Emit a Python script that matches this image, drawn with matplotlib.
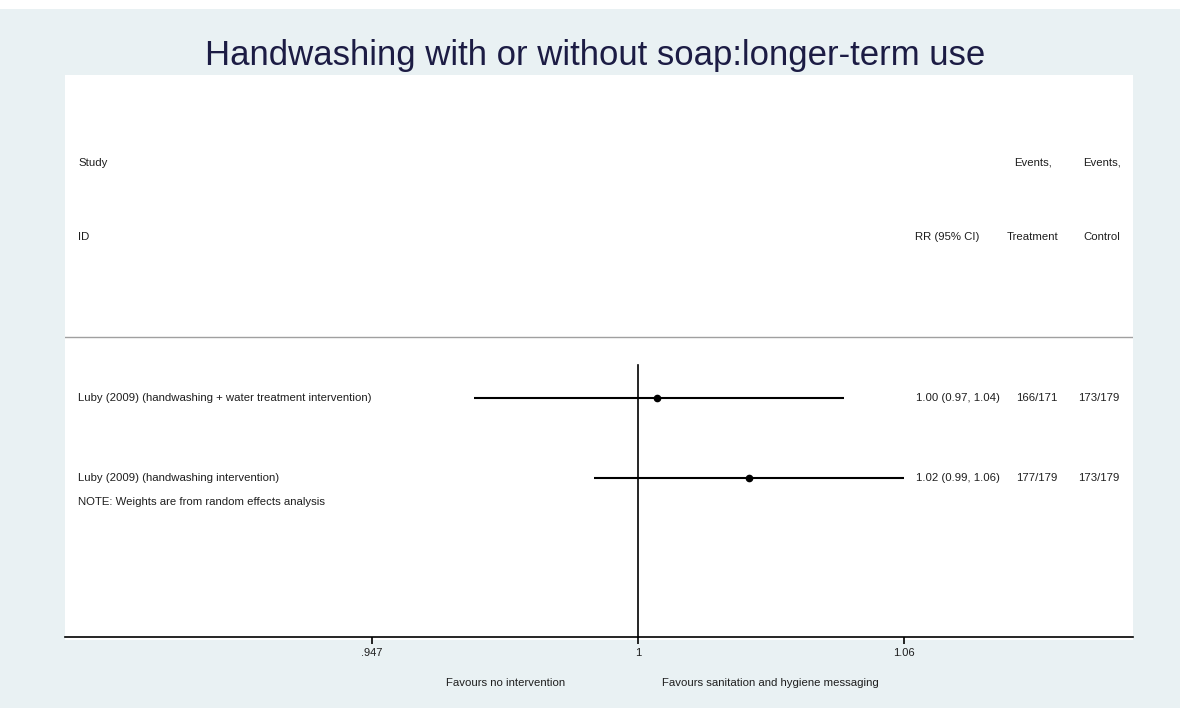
import matplotlib.pyplot as plt
import matplotlib.transforms as mtransforms

plt.rcParams['font.family'] = ['Liberation Sans', 'DejaVu Sans']

# data (risk ratio, log scale)
studies = ["Luby (2009) (handwashing + water treatment intervention)",
           "Luby (2009) (handwashing intervention)"]
rr = [1.004, 1.023]
ci_low = [0.967, 0.991]
ci_high = [1.043, 1.056]
rr_text = ["1.00 (0.97, 1.04)", "1.02 (0.99, 1.06)"]
events_treat = ["166/171", "177/179"]
events_ctrl = ["173/179", "173/179"]
tick_vals = [0.947, 1.0, 1.056]
tick_labels = [".947", "1", "1.06"]

bg = "#e9f1f3"
txt = "#1e1e1e"
fig = plt.figure(figsize=(11.8, 7.08), dpi=100)
fig.patch.set_facecolor(bg)

# white strip at the very top
fig.patches.append(plt.Rectangle((0, 1 - 9 / 708), 1, 9 / 708, transform=fig.transFigure,
                                 facecolor="white", edgecolor="none", zorder=0))
# white panel behind the plot
fig.patches.append(plt.Rectangle((65 / 1180, 1 - 640 / 708), 1068 / 1180, 565 / 708,
                                 transform=fig.transFigure, facecolor="white",
                                 edgecolor="none", zorder=0))

fig.text(0.504, 1 - 55 / 708, "Handwashing with or without soap:longer-term use",
         ha="center", va="center", fontsize=25, color="#1c1c44")

ax = fig.add_axes([65 / 1180, 1 - 637 / 708, 1068 / 1180, 562 / 708])
ax.set_zorder(2)
ax.set_facecolor("white")
ax.set_xscale("log")
ax.set_xlim(0.8893, 1.1067)
ax.set_ylim(2.9875, -4.0375)

for s in ["top", "right", "left"]:
    ax.spines[s].set_visible(False)
ax.spines["bottom"].set_linewidth(1.2)
ax.set_yticks([])
ax.set_xticks(tick_vals)
ax.set_xticklabels(tick_labels, fontsize=8, color=txt)
ax.minorticks_off()
ax.tick_params(axis="x", direction="out", length=5, width=1.2, pad=3)

# null line
ax.plot([1, 1], [-0.4125, 2.9875], color="black", lw=1.2, clip_on=False)

# separator under the header
ax.axhline(-0.7625, color="#a0a0a0", lw=1)

for i in range(len(studies)):
    ax.plot([ci_low[i], ci_high[i]], [i, i], color="black", lw=1.5, solid_capstyle="butt")
    ax.plot(rr[i], i, marker="o", color="black", ms=4.5)

trans = mtransforms.blended_transform_factory(ax.transAxes, ax.transData)
fs = 8.2

def xf(px):
    return (px - 65) / 1068

kw = dict(transform=trans, fontsize=fs, va="center", color=txt)
ax.text(xf(78), -2.94, "Study", **kw)
ax.text(xf(78), -2.0125, "ID", **kw)
ax.text(xf(1033), -2.94, "Events,", ha="center", **kw)
ax.text(xf(1102), -2.94, "Events,", ha="center", **kw)
ax.text(xf(947), -2.0125, "RR (95% CI)", ha="center", **kw)
ax.text(xf(1033), -2.0125, "Treatment", ha="center", **kw)
ax.text(xf(1102), -2.0125, "Control", ha="center", **kw)

for i in range(len(studies)):
    ax.text(xf(78), i, studies[i], **kw)
    ax.text(xf(916), i, rr_text[i], **kw)
    ax.text(xf(1016), i, events_treat[i], **kw)
    ax.text(xf(1078), i, events_ctrl[i], **kw)

ax.text(xf(78), 1.3, "NOTE: Weights are from random effects analysis", **kw)

fig.text(506 / 1180, 1 - 683 / 708, "Favours no intervention", ha="center", va="center",
         fontsize=fs, color=txt)
fig.text(770 / 1180, 1 - 683 / 708, "Favours sanitation and hygiene messaging",
         ha="center", va="center", fontsize=fs, color=txt)

fig.savefig("out.png", dpi=100, facecolor=fig.get_facecolor())
